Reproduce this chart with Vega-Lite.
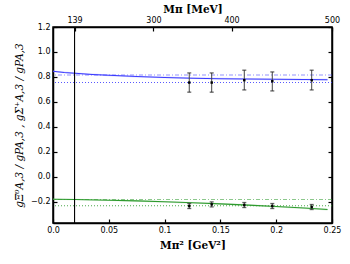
{
  "$schema": "https://vega.github.io/schema/vega-lite/v6.json",
  "width": 279,
  "height": 196,
  "autosize": "none",
  "padding": {"left": 53, "top": 27, "right": 18, "bottom": 41},
  "background": "white",
  "config": {
    "view": {"stroke": "black", "strokeWidth": 1.5},
    "axis": {
      "domainColor": "black", "domainWidth": 1.5, "tickColor": "black", "tickWidth": 1.2,
      "tickSize": -4, "labelPadding": 7, "labelFont": "DejaVu Sans", "labelFontSize": 8,
      "labelColor": "black", "grid": false, "labelFlush": false, "labelOverlap": false,
      "titleFont": "DejaVu Serif", "titleFontSize": 10.5, "titleFontWeight": "bold", "titleColor": "black"
    }
  },
  "datasets": {
    "curves": [
      {"series": "Sigma", "x": 0.0, "y": 0.845, "lo": 0.838, "hi": 0.852},
      {"series": "Sigma", "x": 0.01, "y": 0.836, "lo": 0.829, "hi": 0.843},
      {"series": "Sigma", "x": 0.02, "y": 0.829, "lo": 0.822, "hi": 0.836},
      {"series": "Sigma", "x": 0.035, "y": 0.82, "lo": 0.813, "hi": 0.827},
      {"series": "Sigma", "x": 0.05, "y": 0.813, "lo": 0.806, "hi": 0.82},
      {"series": "Sigma", "x": 0.075, "y": 0.803, "lo": 0.796, "hi": 0.81},
      {"series": "Sigma", "x": 0.1, "y": 0.796, "lo": 0.789, "hi": 0.803},
      {"series": "Sigma", "x": 0.125, "y": 0.79, "lo": 0.783, "hi": 0.797},
      {"series": "Sigma", "x": 0.15, "y": 0.786, "lo": 0.779, "hi": 0.793},
      {"series": "Sigma", "x": 0.175, "y": 0.783, "lo": 0.776, "hi": 0.79},
      {"series": "Sigma", "x": 0.2, "y": 0.781, "lo": 0.774, "hi": 0.788},
      {"series": "Sigma", "x": 0.225, "y": 0.779, "lo": 0.772, "hi": 0.786},
      {"series": "Sigma", "x": 0.246, "y": 0.778, "lo": 0.771, "hi": 0.785},
      {"series": "Xi", "x": 0.0, "y": -0.18, "lo": -0.186, "hi": -0.174},
      {"series": "Xi", "x": 0.02, "y": -0.182, "lo": -0.188, "hi": -0.176},
      {"series": "Xi", "x": 0.05, "y": -0.188, "lo": -0.194, "hi": -0.182},
      {"series": "Xi", "x": 0.075, "y": -0.193, "lo": -0.2, "hi": -0.186},
      {"series": "Xi", "x": 0.1, "y": -0.2, "lo": -0.207, "hi": -0.193},
      {"series": "Xi", "x": 0.125, "y": -0.208, "lo": -0.215, "hi": -0.201},
      {"series": "Xi", "x": 0.15, "y": -0.217, "lo": -0.224, "hi": -0.21},
      {"series": "Xi", "x": 0.175, "y": -0.227, "lo": -0.234, "hi": -0.22},
      {"series": "Xi", "x": 0.2, "y": -0.238, "lo": -0.245, "hi": -0.231},
      {"series": "Xi", "x": 0.225, "y": -0.25, "lo": -0.257, "hi": -0.243},
      {"series": "Xi", "x": 0.246, "y": -0.262, "lo": -0.27, "hi": -0.254}
    ],
    "hlines": [
      {"series": "Sigma", "kind": "dashdot", "y": 0.815},
      {"series": "Sigma", "kind": "dotted", "y": 0.755},
      {"series": "Xi", "kind": "dashdot", "y": -0.182},
      {"series": "Xi", "kind": "dotted", "y": -0.232}
    ],
    "points": [
      {"series": "Sigma", "x": 0.1221, "y": 0.755, "lo": 0.678, "hi": 0.832},
      {"series": "Sigma", "x": 0.1422, "y": 0.755, "lo": 0.678, "hi": 0.832},
      {"series": "Sigma", "x": 0.1714, "y": 0.774, "lo": 0.696, "hi": 0.854},
      {"series": "Sigma", "x": 0.1965, "y": 0.766, "lo": 0.688, "hi": 0.84},
      {"series": "Sigma", "x": 0.2318, "y": 0.774, "lo": 0.696, "hi": 0.854},
      {"series": "Xi", "x": 0.1221, "y": -0.234, "lo": -0.254, "hi": -0.214},
      {"series": "Xi", "x": 0.1422, "y": -0.221, "lo": -0.241, "hi": -0.201},
      {"series": "Xi", "x": 0.1714, "y": -0.226, "lo": -0.246, "hi": -0.206},
      {"series": "Xi", "x": 0.1965, "y": -0.234, "lo": -0.254, "hi": -0.214},
      {"series": "Xi", "x": 0.2318, "y": -0.242, "lo": -0.262, "hi": -0.222}
    ],
    "vline": [{"x": 0.019321}]
  },
  "resolve": {"axis": {"x": "independent", "y": "independent"}},
  "layer": [
    {
      "data": {"name": "curves"},
      "mark": {"type": "area", "opacity": 0.4},
      "encoding": {
        "x": {"field": "x", "type": "quantitative", "scale": {"domain": [0, 0.25], "nice": false, "zero": false}, "axis": null},
        "y": {"field": "lo", "type": "quantitative", "scale": {"domain": [-0.37, 1.2], "nice": false, "zero": false}, "axis": null},
        "y2": {"field": "hi"},
        "fill": {"field": "series", "type": "nominal", "scale": {"domain": ["Sigma", "Xi"], "range": ["#a5a5ff", "#9fd69f"]}, "legend": null}
      }
    },
    {
      "data": {"name": "curves"},
      "mark": {"type": "line", "strokeWidth": 1.1},
      "encoding": {
        "x": {"field": "x", "type": "quantitative", "axis": {"orient": "bottom", "title": "Mπ²  [GeV²]", "values": [0, 0.05, 0.1, 0.15, 0.2, 0.25], "labelExpr": "datum.value == 0 ? '0.0' : '' + datum.value", "titlePadding": 6}},
        "y": {"field": "y", "type": "quantitative", "axis": {"orient": "left", "title": "gΞ⁰A,3 / gPA,3 , gΣ⁺A,3 / gPA,3", "titleFont": "DejaVu Serif", "titleFontStyle": "italic", "titleFontWeight": "normal", "values": [-0.2, 0, 0.2, 0.4, 0.6, 0.8, 1.0, 1.2], "format": ".1f", "titlePadding": 6}},
        "detail": {"field": "series"},
        "color": {"field": "series", "type": "nominal", "scale": {"domain": ["Sigma", "Xi"], "range": ["#3b3bff", "#2e9a2e"]}, "legend": null}
      }
    },
    {
      "data": {"name": "hlines"},
      "mark": {"type": "rule", "strokeWidth": 1.1},
      "encoding": {
        "y": {"field": "y", "type": "quantitative", "axis": null},
        "color": {"field": "series", "type": "nominal", "legend": null},
        "strokeDash": {"field": "kind", "type": "nominal", "scale": {"domain": ["dashdot", "dotted"], "range": [[4, 2, 1, 2], [1, 2]]}, "legend": null},
        "opacity": {"field": "kind", "type": "nominal", "scale": {"domain": ["dashdot", "dotted"], "range": [0.55, 0.85]}, "legend": null}
      }
    },
    {
      "data": {"name": "vline"},
      "mark": {"type": "rule", "color": "black", "strokeWidth": 1.1},
      "encoding": {
        "x": {"field": "x", "type": "quantitative", "axis": {"orient": "top", "title": "Mπ  [MeV]", "values": [0.019321, 0.09, 0.16, 0.25], "labelExpr": "format(round(sqrt(datum.value) * 1000), 'd')", "titlePadding": 2}}
      }
    },
    {
      "data": {"name": "points"},
      "mark": {"type": "rule", "color": "#444444", "strokeWidth": 1},
      "encoding": {
        "x": {"field": "x", "type": "quantitative", "axis": null},
        "y": {"field": "lo", "type": "quantitative", "axis": null},
        "y2": {"field": "hi"}
      }
    },
    {
      "data": {"name": "points"},
      "mark": {"type": "tick", "orient": "horizontal", "color": "#222222", "size": 4, "thickness": 1.3},
      "encoding": {
        "x": {"field": "x", "type": "quantitative", "axis": null},
        "y": {"field": "lo", "type": "quantitative", "axis": null}
      }
    },
    {
      "data": {"name": "points"},
      "mark": {"type": "tick", "orient": "horizontal", "color": "#222222", "size": 4, "thickness": 1.3},
      "encoding": {
        "x": {"field": "x", "type": "quantitative", "axis": null},
        "y": {"field": "hi", "type": "quantitative", "axis": null}
      }
    },
    {
      "data": {"name": "points"},
      "mark": {"type": "square", "color": "black", "filled": true, "size": 6, "opacity": 1},
      "encoding": {
        "x": {"field": "x", "type": "quantitative", "axis": null},
        "y": {"field": "y", "type": "quantitative", "axis": {"orient": "right", "labels": false, "title": null, "values": [-0.2, 0, 0.2, 0.4, 0.6, 0.8, 1.0, 1.2]}}
      }
    }
  ]
}
